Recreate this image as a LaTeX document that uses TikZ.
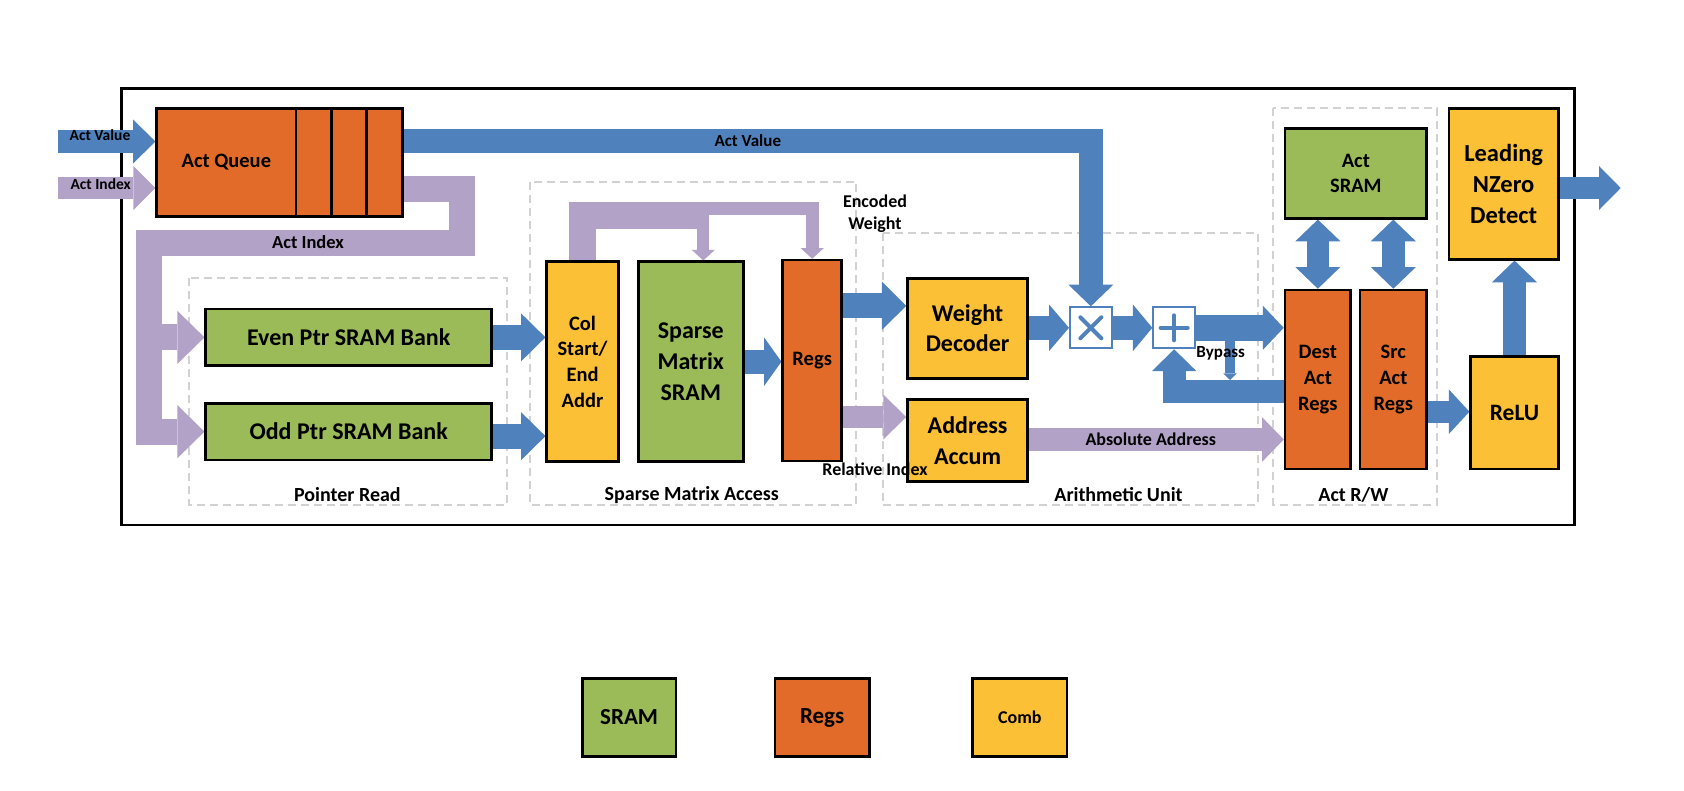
\documentclass[tikz,border=0pt]{standalone}
\usepackage{fontspec}
\setmainfont{Carlito}
\usetikzlibrary{arrows.meta}
\definecolor{blu}{RGB}{79,129,189}
\definecolor{pur}{RGB}{179,162,199}
\definecolor{grn}{RGB}{155,187,89}
\definecolor{org}{RGB}{226,107,41}
\definecolor{yel}{RGB}{251,192,54}
\definecolor{dgray}{RGB}{210,210,210}
\newcommand\myfs[2]{\fontsize{#1}{#2}\selectfont\bfseries}
\pgfdeclarelayer{bg}
\pgfdeclarelayer{arr}
\pgfsetlayers{bg,arr,main}
\begin{document}
\begin{tikzpicture}[x=1pt,y=-1pt,
  box/.style={draw=black,line width=2.5pt,inner sep=0pt,align=center,text=black},
  sram/.style={box,fill=grn},
  reg/.style={box,fill=org},
  comb/.style={box,fill=yel},
  opbox/.style={draw=blu,fill=white,line width=2pt,minimum width=41.7pt,minimum height=41pt,inner sep=0pt},
  opsym/.style={draw=blu,line width=4pt,line cap=round},
  group/.style={draw=dgray,line width=2pt,dash pattern=on 8pt off 5pt},
  lbl/.style={font=\myfs{18}{21.7},text=black,align=center,inner sep=0pt},
  glbl/.style={lbl,font=\myfs{20}{24}},
  ar/.style n args={4}{draw=#1,line width=#2,line join=miter,-{Triangle[width=#3 0 0,length=#4 0 0,line width=0pt 0 0]}},
  dar/.style n args={4}{draw=#1,line width=#2,line join=miter,{Triangle[width=#3 0 0,length=#4 0 0,line width=0pt 0 0]}-{Triangle[width=#3 0 0,length=#4 0 0,line width=0pt 0 0]}},
  ln/.style n args={2}{draw=#1,line width=#2,line join=miter},
]
\useasboundingbox (0,0) rectangle (1684,790);

% ---------- nodes ----------
\node[reg,minimum width=139.3pt,minimum height=108.4pt,font=\myfs{20.5}{25}] (qmain) at (226.35,162.5) {Act Queue};
\node[reg,minimum width=35.7pt,minimum height=108.4pt] (q1) at (313.85,162.5) {};
\node[reg,minimum width=35pt,minimum height=108.4pt] (q2) at (349.2,162.5) {};
\node[reg,minimum width=35.6pt,minimum height=108.4pt] (q3) at (384.5,162.5) {};

\node[sram,minimum width=286pt,minimum height=56.7pt,font=\myfs{24}{30.7}] (even) at (348.7,337.35) {Even Ptr SRAM Bank};
\node[sram,minimum width=286pt,minimum height=56.7pt,font=\myfs{24}{30.7}] (odd) at (348.7,431.65) {Odd Ptr SRAM Bank};

\node[comb,minimum width=71.6pt,minimum height=200pt,font=\myfs{20.5}{25.7}] (col) at (582.5,361.7) {Col\\Start/\\End\\Addr};
\node[sram,minimum width=105pt,minimum height=200pt,font=\myfs{24}{30.7}] (smsram) at (690.8,361.7) {Sparse\\Matrix\\SRAM};
\node[reg,minimum width=59pt,minimum height=201pt,font=\myfs{20.5}{25.7}] (regs) at (812.2,360.5) {Regs};

\node[comb,minimum width=120.2pt,minimum height=100pt,font=\myfs{24}{30.7}] (wdec) at (967.6,328.3) {Weight\\Decoder};
\node[comb,minimum width=120.2pt,minimum height=82.4pt,font=\myfs{24}{30.7}] (aacc) at (967.6,440.5) {Address\\Accum};

\node[opbox] (mul) at (1090.85,327.8) {};
\node[opbox] (add) at (1174.15,327.8) {};
\draw[opsym] ([shift={(-10.5,-10.5)}]mul.center) -- ([shift={(10.5,10.5)}]mul.center);
\draw[opsym] ([shift={(-10.5,10.5)}]mul.center) -- ([shift={(10.5,-10.5)}]mul.center);
\draw[opsym] ([shift={(-13.5,0)}]add.center) -- ([shift={(13.5,0)}]add.center);
\draw[opsym] ([shift={(0,-12.5)}]add.center) -- ([shift={(0,12.5)}]add.center);

\node[sram,minimum width=141.7pt,minimum height=90pt,font=\myfs{20.5}{25}] (actsram) at (1355.85,173.3) {Act\\SRAM};
\node[reg,minimum width=65.7pt,minimum height=179pt,font=\myfs{20.5}{25.7}] (dest) at (1317.85,379.5) {Dest\\Act\\Regs};
\node[reg,minimum width=66.7pt,minimum height=179pt,font=\myfs{20.5}{25.7}] (src) at (1393.35,379.5) {Src\\Act\\Regs};

\node[comb,minimum width=109.3pt,minimum height=151pt,font=\myfs{24.5}{30.7}] (lnzd) at (1503.65,183.8) {Leading\\NZero\\Detect};
\node[comb,minimum width=87.6pt,minimum height=112.3pt,font=\myfs{23.5}{28}] (relu) at (1514.5,412.85) {ReLU};

% legend
\node[sram,minimum width=93.7pt,minimum height=78.4pt,font=\myfs{23}{28}] (lgsram) at (629.15,717.5) {SRAM};
\node[reg,minimum width=94.3pt,minimum height=78.4pt,font=\myfs{23}{28}] (lgregs) at (822.15,717.5) {Regs};
\node[comb,minimum width=94.3pt,minimum height=78.4pt,font=\myfs{18}{22}] (lgcomb) at (1019.85,717.5) {Comb};

% ---------- labels ----------
\node[lbl,font=\myfs{15.5}{18}] (lavin) at (100,135) {Act Value};
\node[lbl,font=\myfs{15.5}{18}] (laiin) at (100.7,184.3) {Act Index};
\node[lbl,font=\myfs{17}{20}] (lav) at (747.8,140.5) {Act Value};
\node[lbl,font=\myfs{18.5}{22}] (lai) at (308,242) {Act Index};
\node[lbl] (lenc) at (875,213.5) {Encoded\\Weight};
\node[lbl] (lrel) at (875,469.3) {Relative Index};
\node[lbl] (labs) at (1150.7,439.3) {Absolute Address};
\node[lbl,font=\myfs{17}{20}] (lbyp) at (1220.7,353.3) {Bypass};
\node[glbl] (gpr) at (347.4,495) {Pointer Read};
\node[glbl] (gsma) at (691.8,495) {Sparse Matrix Access};
\node[glbl] (gau) at (1118.5,495) {Arithmetic Unit};
\node[glbl] (garw) at (1353.4,495) {Act R/W};

% ---------- background: groups and frame ----------
\begin{pgfonlayer}{bg}
\draw[group] (189.3,278.3) rectangle (506.7,505);
\draw[group] (530,181.7) rectangle (856,505);
\draw[group] (882.7,232.7) rectangle (1257.7,505);
\draw[group] (1273.3,108.3) rectangle (1436.7,505);
\draw[line width=2.7pt] (121.7,88.3) rectangle (1574.3,525);
\end{pgfonlayer}

% ---------- arrows ----------
\coordinate (avin) at (58,141.5);
\coordinate (aiin) at (58,188);
\coordinate (aiR) at (461.65,188.7);
\coordinate (aiRD) at (461.65,243);
\coordinate (aiL) at (148.7,243);
\coordinate (loopM) at (703.3,202.3);
\coordinate (loopMend) at (703.3,260.5);
\coordinate (loopT) at (697.3,208.7);
\coordinate (loopK) at (709.3,215.7);
\coordinate (bypS) at (1230,339);
\coordinate (bypE) at (1230,380);
\coordinate (outtip) at (1620.7,188);

\begin{pgfonlayer}{arr}
% inputs
\draw[ar={blu}{22.7pt}{44pt}{22.4pt}] (avin) -- (avin -| qmain.west);
\draw[ar={pur}{22.6pt}{44pt}{22pt}] (aiin) -- (aiin -| qmain.west);
% act value to multiplier
\draw[ar={blu}{24.5pt}{45pt}{21.7pt}] (q3.east |- 0,141.2) -| (mul.north);
% act index to pointer banks
\draw[ar={pur}{26pt}{53pt}{27pt}] (q3.east |- aiR) -- (aiR) -- (aiRD) -- (aiL) |- (odd.west);
\draw[ar={pur}{26pt}{53pt}{27pt}] (aiL) |- (even.west);
% pointer banks to col addr
\draw[ar={blu}{25pt}{48pt}{24.4pt}] (even.east) -- (even.east -| col.west);
\draw[ar={blu}{25pt}{48pt}{24.4pt}] ([yshift=-4.5pt]odd.east) -- ([yshift=-4.5pt]odd.east -| col.west);
% col addr loop
\draw[ln={pur}{26.7pt}] (col.north) -- (col.north |- loopK) -- (loopK);
\draw[ar={pur}{12pt}{23.3pt}{10.7pt}] (loopM) -- (loopMend);
\draw[ar={pur}{12.7pt}{23.3pt}{10.7pt}] (loopT) -| (regs.north);
% sparse sram to regs
\draw[ar={blu}{24.3pt}{48.4pt}{17.3pt}] (smsram.east) -- (smsram.east -| regs.west);
% regs to decoder / accum
\draw[ar={blu}{25pt}{48.3pt}{24.3pt}] (regs.east |- 0,305.8) -- (wdec.west |- 0,305.8);
\draw[ar={pur}{22.6pt}{45pt}{23pt}] (regs.east |- 0,417) -- (aacc.west |- 0,417);
% arithmetic
\draw[ar={blu}{24pt}{46.7pt}{20pt}] (wdec.east |- mul.west) -- (mul.west);
\draw[ar={blu}{24pt}{46.7pt}{19.4pt}] (mul.east) -- (add.west);
\draw[ar={blu}{25.7pt}{44.3pt}{21pt}] (add.east) -- (add.east -| dest.west);
\draw[ar={blu}{10pt}{13.3pt}{6.6pt}] (bypS) -- (bypE);
\draw[ar={blu}{22.7pt}{44.3pt}{21.7pt}] (dest.west |- 0,391.3) -| (add.south);
\draw[ar={pur}{22.4pt}{44.4pt}{21.6pt}] (aacc.east |- 0,439.5) -- (dest.west |- 0,439.5);
% act r/w
\draw[dar={blu}{22.3pt}{45pt}{21.7pt}] (actsram.south -| dest.north) -- (dest.north);
\draw[dar={blu}{22.3pt}{45pt}{21.7pt}] (actsram.south -| src.north) -- (src.north);
\draw[ar={blu}{22pt}{44.7pt}{20.7pt}] (src.east |- 0,411.7) -- (relu.west |- 0,411.7);
\draw[ar={blu}{23pt}{45pt}{21.7pt}] (relu.north) -- (relu.north |- lnzd.south);
\draw[ar={blu}{22.6pt}{44pt}{21.7pt}] (lnzd.east |- outtip) -- (outtip);
\end{pgfonlayer}
\end{tikzpicture}
\end{document}
